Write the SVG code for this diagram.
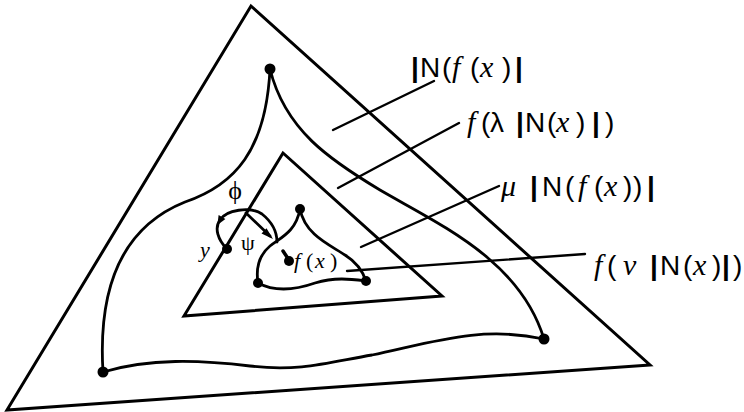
<svg xmlns="http://www.w3.org/2000/svg" width="744" height="412" viewBox="0 0 744 412">
<style>
.ln{fill:none;stroke:#000;stroke-width:3;stroke-linejoin:miter;stroke-linecap:round}
.cv{fill:none;stroke:#000;stroke-width:2.8;stroke-linecap:round;stroke-linejoin:round}
.ld{fill:none;stroke:#000;stroke-width:2.4;stroke-linecap:round}
.dot{fill:#000}
.lb{font-family:"Liberation Sans",Arial,sans-serif;font-size:28px;fill:#000}
.it{font-family:"Liberation Serif","Times New Roman",serif;font-style:italic;font-size:30px}
.bar{font-weight:bold}
.sm{font-family:"Liberation Serif","Times New Roman",serif;font-style:italic;font-size:22px;fill:#000}
</style>
<rect width="744" height="412" fill="#fff"/>
<g id="outer-triangle"><polygon class="ln" points="251,6 650,365 7,410"/></g>
<g id="middle-region"><path class="cv" d="M270,69 C266,150 235,185 185,202 C120,228 98,290 103,372 C150,358 200,360 250,366 C300,372 330,362 372,355 C430,343 480,325 544,339 C520,260 440,225 380,190 C330,160 285,130 270,69 Z"/>
<circle class="dot" cx="270" cy="69" r="5.5"/><circle class="dot" cx="103" cy="372" r="5.5"/><circle class="dot" cx="544" cy="339" r="5.5"/></g>
<g id="inner-triangle"><polygon class="ln" points="283,153 442,296 184,316"/></g>
<g id="small-region"><path class="cv" d="M300,209 C296,232 280,238 270,246 C258,256 256,270 258,283 C275,292 295,290 315,283 C335,277 350,279 366,281 C363,272 358,263 345,255 C330,245 305,235 300,209 Z"/>
<circle class="dot" cx="300" cy="209" r="5"/><circle class="dot" cx="258" cy="283" r="5"/><circle class="dot" cx="366" cy="281" r="5"/></g>
<g id="point-fx"><line class="ld" x1="283" y1="251" x2="289" y2="260" style="stroke-width:3.5"/><circle class="dot" cx="289" cy="261" r="5"/>
<text class="sm"><tspan x="294" y="268">f</tspan><tspan x="306" y="268" style="font-style:normal">(</tspan><tspan x="315" y="268">x</tspan><tspan x="330" y="268" style="font-style:normal">)</tspan></text></g>
<g id="point-y"><circle class="dot" cx="227" cy="249" r="5"/><text class="sm" x="200" y="257">y</text></g>
<g id="connectors">
<path class="cv" d="M277,242 C277,232 272,222 262,214 C250,206 226,210 220,220 C214,228 218,240 227,249"/>
<polygon class="dot" points="225.4,219 218.6,215 217.4,225"/>
<line class="cv" x1="246" y1="213" x2="270" y2="236"/>
<polygon class="dot" points="273,239 261.5,233.5 266.5,228.3"/>
<line class="ld" x1="333" y1="130" x2="434" y2="81"/>
<line class="ld" x1="338" y1="188" x2="459" y2="123"/>
<line class="ld" x1="361" y1="247" x2="499" y2="186"/>
<line class="ld" x1="347" y1="271" x2="585" y2="254"/>
</g>
<g id="label-phi"><text class="sm" x="235" y="199" text-anchor="middle" style="font-style:normal;font-size:26px">ϕ</text></g>
<g id="label-psi"><text class="sm" x="248" y="250" text-anchor="middle" style="font-style:normal;font-size:22px">ψ</text></g>
<g id="label-1"><text class="lb" y="77"><tspan x="411" class="bar">|</tspan><tspan x="420">N</tspan><tspan x="442">(</tspan><tspan x="452" class="it">f</tspan><tspan x="470">(</tspan><tspan x="480" class="it">x</tspan><tspan x="502">)</tspan><tspan x="515" class="bar">|</tspan></text></g>
<g id="label-2"><text class="lb" y="132"><tspan x="467" class="it">f</tspan><tspan x="481">(</tspan><tspan x="490">λ</tspan><tspan x="516" class="bar">|</tspan><tspan x="525">N</tspan><tspan x="547">(</tspan><tspan x="556" class="it">x</tspan><tspan x="576">)</tspan><tspan x="592" class="bar">|</tspan><tspan x="605">)</tspan></text></g>
<g id="label-3"><text class="lb" y="196"><tspan x="501" class="it">μ</tspan><tspan x="530" class="bar">|</tspan><tspan x="542">N</tspan><tspan x="565">(</tspan><tspan x="578" class="it">f</tspan><tspan x="594">(</tspan><tspan x="604" class="it">x</tspan><tspan x="623">)</tspan><tspan x="633">)</tspan><tspan x="647" class="bar">|</tspan></text></g>
<g id="label-4"><text class="lb" y="275"><tspan x="594" class="it">f</tspan><tspan x="607">(</tspan><tspan x="623" class="it">ν</tspan><tspan x="650" class="bar">|</tspan><tspan x="660">N</tspan><tspan x="683">(</tspan><tspan x="693" class="it">x</tspan><tspan x="712">)</tspan><tspan x="722" class="bar">|</tspan><tspan x="733">)</tspan></text></g>
</svg>
